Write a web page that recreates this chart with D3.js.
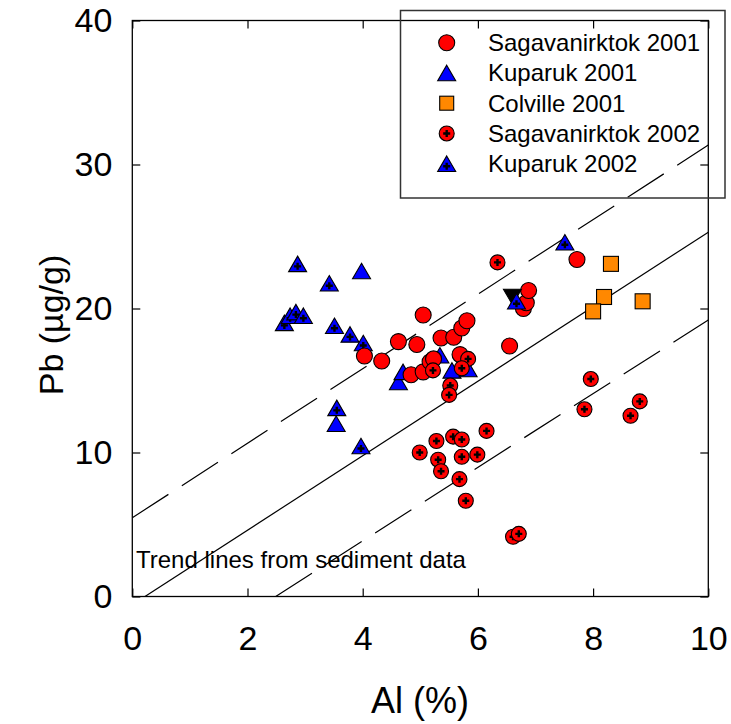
<!DOCTYPE html>
<html><head><meta charset="utf-8">
<script src="https://cdn.jsdelivr.net/npm/d3@7/dist/d3.min.js"></script>
<style>
body{margin:0;background:#fff;}
text{font-family:"Liberation Sans",Arial,sans-serif;}
</style></head>
<body>
<svg id="chart" width="731" height="724"></svg>
<script>
// ---- data ----
const sag2001 = [[4.03,16.7],[4.33,16.35],[4.62,17.7],[4.94,17.5],[5.05,19.55],[5.36,17.95],[5.58,18.0],[5.72,18.65],[5.81,19.15],[4.84,15.4],[5.05,15.6],[5.17,16.3],[5.23,16.5],[5.69,16.8],[6.55,17.4],[6.79,20.0],[6.84,20.4],[6.88,21.25],[7.72,23.4]];
const kup2001 = [[3.98,22.6],[3.54,12.0],[4.62,14.9],[4.70,15.6],[5.34,16.75],[5.55,15.7],[5.83,15.8]];
const col2001 = [[8.31,23.1],[8.19,20.8],[8.00,19.8],[8.86,20.5]];
const sag2002 = [[6.34,23.2],[5.83,16.5],[5.22,15.7],[5.72,15.85],[5.52,14.65],[5.50,14.0],[4.99,10.0],[5.28,10.8],[5.57,11.1],[5.72,10.9],[6.15,11.5],[5.31,9.5],[5.36,8.7],[5.72,9.7],[5.99,9.85],[5.68,8.15],[5.79,6.65],[6.61,4.15],[6.71,4.35],[7.96,15.1],[7.85,13.0],[8.81,13.55],[8.65,12.55]];
const kup2002 = [[2.87,23.1],[3.42,21.75],[2.64,19.0],[2.74,19.5],[2.84,19.75],[2.97,19.5],[3.51,18.8],[3.78,18.2],[4.01,17.6],[3.55,13.1],[3.97,10.45],[6.67,20.5],[7.51,24.6]];
const otherPts = [[6.60,20.8]];
const trendSolid = [[0.22,0],[10,25.3]];
const trendUpper = [[0,5.47],[10,31.35]];
const trendLower = [[2.49,0],[10,19.2]];
const xTicks = [0,2,4,6,8,10];
const yTicks = [0,10,20,30,40];
const legendLabels = ["Sagavanirktok 2001","Kuparuk 2001","Colville 2001","Sagavanirktok 2002","Kuparuk 2002"];

// ---- layout ----
const svg = d3.select("#chart");
const L=132.3, R=708.3, T=20.5, B=596.5;
const x = d3.scaleLinear().domain([0,10]).range([L,R]);
const y = d3.scaleLinear().domain([0,40]).range([B,T]);

svg.append("defs").append("clipPath").attr("id","clip")
  .append("rect").attr("x",L).attr("y",T).attr("width",R-L).attr("height",B-T);

function styleAxis(g){ g.select(".domain").remove(); g.selectAll(".tick line").attr("stroke","#000").attr("stroke-width",1.2); }
const tickFont = g=>g.selectAll("text").attr("font-size",34).attr("fill","#000").attr("font-family","Liberation Sans, Arial");
svg.append("g").attr("transform",`translate(0,${B})`)
  .call(d3.axisBottom(x).tickValues(xTicks).tickSize(-8).tickPadding(29).tickFormat(d3.format("d")))
  .call(styleAxis).call(tickFont);
svg.append("g").attr("transform",`translate(${L},0)`)
  .call(d3.axisLeft(y).tickValues(yTicks).tickSize(-8).tickPadding(20).tickFormat(d3.format("d")))
  .call(styleAxis).call(tickFont);
svg.append("g").attr("transform",`translate(0,${T})`)
  .call(d3.axisTop(x).tickValues(xTicks).tickSize(-8).tickFormat(""))
  .call(styleAxis);
svg.append("g").attr("transform",`translate(${R},0)`)
  .call(d3.axisRight(y).tickValues(yTicks).tickSize(-8).tickFormat(""))
  .call(styleAxis);

svg.append("rect").attr("x",L).attr("y",T).attr("width",R-L).attr("height",B-T)
  .attr("fill","none").attr("stroke","#000").attr("stroke-width",1.3);

// titles
svg.append("text").attr("x",420).attr("y",713).attr("text-anchor","middle")
  .attr("font-size",36).text("Al (%)");
svg.append("text").attr("transform","translate(63,325) rotate(-90)").attr("text-anchor","middle")
  .attr("font-size",34).text("Pb (\u00b5g/g)");

// trend lines
const line = d3.line().x(d=>x(d[0])).y(d=>y(d[1]));
const tg = svg.append("g").attr("clip-path","url(#clip)");
tg.append("path").attr("d",line(trendSolid)).attr("fill","none").attr("stroke","#000").attr("stroke-width",1.2);
tg.append("path").attr("d",line(trendUpper)).attr("fill","none").attr("stroke","#000").attr("stroke-width",1.2).attr("stroke-dasharray","43,16");
tg.append("path").attr("d",line(trendLower)).attr("fill","none").attr("stroke","#000").attr("stroke-width",1.2).attr("stroke-dasharray","43,16");

svg.append("text").attr("x",136).attr("y",568).attr("font-size",24).text("Trend lines from sediment data");

// markers
const RED="#ff0000", BLUE="#0000ff", ORANGE="#ff8800";
function triPath(w,h,inv){ const s=inv?-1:1; return `M0,${-s*h/2}L${w/2},${s*h/2}L${-w/2},${s*h/2}Z`; }
function plusPath(a){ return `M${-a},0H${a}M0,${-a}V${a}`; }
function drawCircle(g,px,py,r,plus){
  g.append("circle").attr("cx",px).attr("cy",py).attr("r",r).attr("fill",RED).attr("stroke","#000").attr("stroke-width",1.1);
  if(plus) g.append("path").attr("transform",`translate(${px},${py})`).attr("d",plusPath(3.5)).attr("stroke","#000").attr("stroke-width",2.4);
}
function drawTri(g,px,py,plus,color,inv){
  g.append("path").attr("transform",`translate(${px},${py})`).attr("d",triPath(18,15.5,inv)).attr("fill",color||BLUE).attr("stroke","#000").attr("stroke-width",1.1).attr("stroke-linejoin","miter");
  if(plus) g.append("path").attr("transform",`translate(${px},${py+2.5})`).attr("d",plusPath(3.5)).attr("stroke","#000").attr("stroke-width",2.4);
}
function drawSq(g,px,py,s){
  g.append("rect").attr("x",px-s/2).attr("y",py-s/2).attr("width",s).attr("height",s).attr("fill",ORANGE).attr("stroke","#000").attr("stroke-width",1.1);
}
const mg = svg.append("g").attr("clip-path","url(#clip)");
kup2002.slice(0,11).forEach(d=>drawTri(mg,x(d[0]),y(d[1]),true));
kup2001.forEach(d=>drawTri(mg,x(d[0]),y(d[1]),false));
sag2001.forEach(d=>drawCircle(mg,x(d[0]),y(d[1]),8,false));
sag2002.forEach(d=>drawCircle(mg,x(d[0]),y(d[1]),7.5,true));
otherPts.forEach(d=>drawTri(mg,x(d[0]),y(d[1]),false,"#000",true));
kup2002.slice(11).forEach(d=>drawTri(mg,x(d[0]),y(d[1]),true));
col2001.forEach(d=>drawSq(mg,x(d[0]),y(d[1]),15));

// legend
const lg = svg.append("g");
lg.append("rect").attr("x",400.5).attr("y",10.5).attr("width",324.5).attr("height",187.5)
  .attr("fill","none").attr("stroke","#333").attr("stroke-width",1.5);
const ly = d3.scalePoint().domain(legendLabels).range([42.7,163.7]);
const lx = 446.7;
drawCircle(lg,lx,ly(legendLabels[0]),8,false);
drawTri(lg,lx,ly(legendLabels[1]),false);
drawSq(lg,lx,ly(legendLabels[2]),14);
drawCircle(lg,lx,ly(legendLabels[3]),7.5,true);
drawTri(lg,lx,ly(legendLabels[4]),true);
legendLabels.forEach(t=>{
  lg.append("text").attr("x",488).attr("y",ly(t)+8.5).attr("font-size",24).text(t);
});
</script>
</body></html>
